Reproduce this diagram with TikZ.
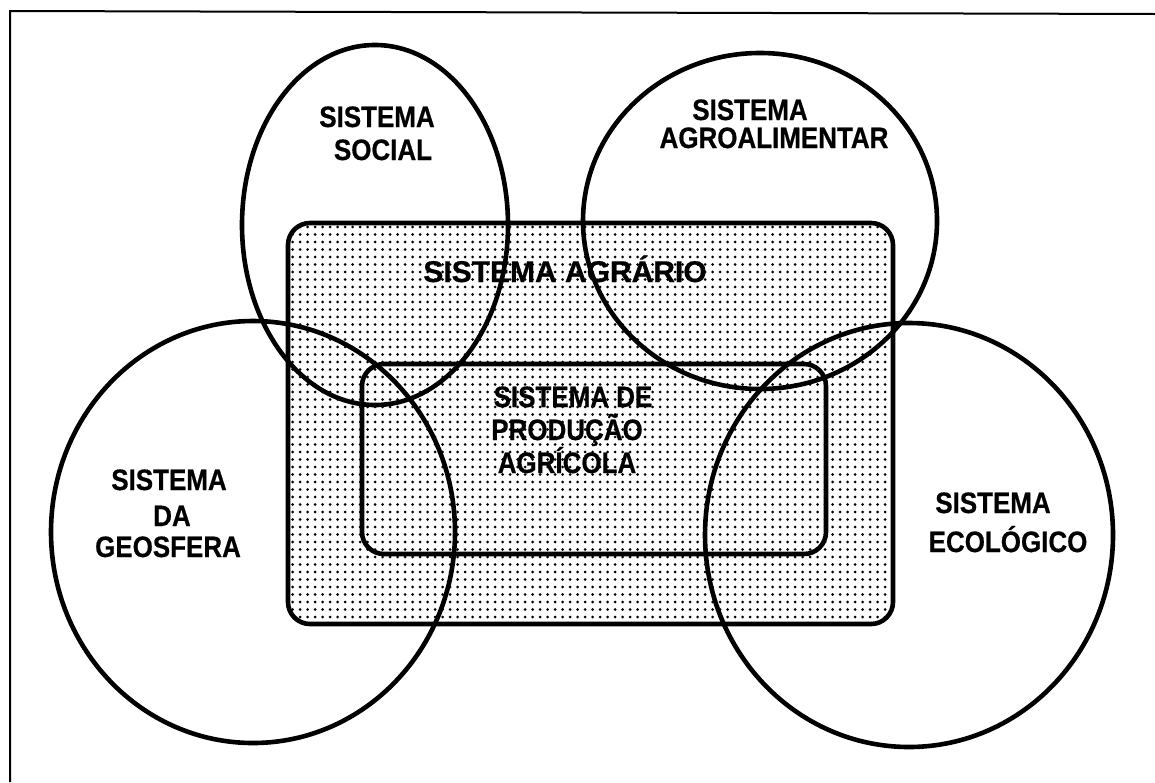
\documentclass[tikz,border=0pt]{standalone}
\usepackage{fontspec}
\setmainfont{Liberation Sans}
\newfontfamily\lab[FakeStretch=0.88,FakeBold=0.6]{Liberation Sans}
\newfontfamily\labw[FakeBold=0.6]{Liberation Sans}
\usetikzlibrary{patterns}
\pgfdeclarepatternformonly{scandots}{\pgfqpoint{-2pt}{-2pt}}{\pgfqpoint{2pt}{2pt}}{\pgfqpoint{7.5pt}{7.5pt}}{\pgfpathcircle{\pgfpointorigin}{1.5pt}\pgfusepath{fill}}
\begin{document}
\begin{tikzpicture}[x=1pt,y=-1pt,
  sysline/.style={line width=4.6pt},
  boxline/.style={line width=4.6pt, rounded corners=22pt},
  lbl/.style={anchor=base, inner sep=0pt, font=\lab\bfseries\fontsize{29.5}{31}\selectfont},
  lblbig/.style={anchor=base, inner sep=0pt, font=\labw\bfseries\fontsize{30}{32}\selectfont}]
\useasboundingbox (0,0) rectangle (1155,782);
\fill[white] (0,0) rectangle (1155,782);
% outer frame (top and left only)
\draw[line width=2pt] (10,782) -- (10,11) -- (1155,14);
% agrarian system box
\draw[boxline, pattern=scandots] (288,223) rectangle (893,624);
% agricultural production system box
\draw[boxline] (362,364) rectangle (826,554);
% system ellipses
\draw[sysline] (375,225) ellipse [x radius=133, y radius=180];
\draw[sysline] (760,221) ellipse [x radius=177, y radius=168];
\draw[sysline] (253,532) ellipse [x radius=202, y radius=211];
\draw[sysline] (909,535) ellipse [x radius=204, y radius=212];
% labels
\node[lbl] (soc1) at (377,127) {SISTEMA};
\node[lbl] (soc2) at (383,160) {SOCIAL};
\node[lbl] (agr1) at (750,120) {SISTEMA};
\node[lbl] (agr2) at (774,148) {AGROALIMENTAR};
\node[lblbig] (agra) at (565,282) {SISTEMA AGRÁRIO};
\node[lbl] (prod1) at (573,407) {SISTEMA DE};
\node[lbl] (prod2) at (567,440) {PRODUÇÃO};
\node[lbl] (prod3) at (567,473) {AGRÍCOLA};
\node[lbl] (geo1) at (169,490) {SISTEMA};
\node[lbl] (geo2) at (172,526) {DA};
\node[lbl] (geo3) at (168,557) {GEOSFERA};
\node[lbl] (eco1) at (993,513) {SISTEMA};
\node[lbl] (eco2) at (1008,552) {ECOLÓGICO};
\end{tikzpicture}
\end{document}
